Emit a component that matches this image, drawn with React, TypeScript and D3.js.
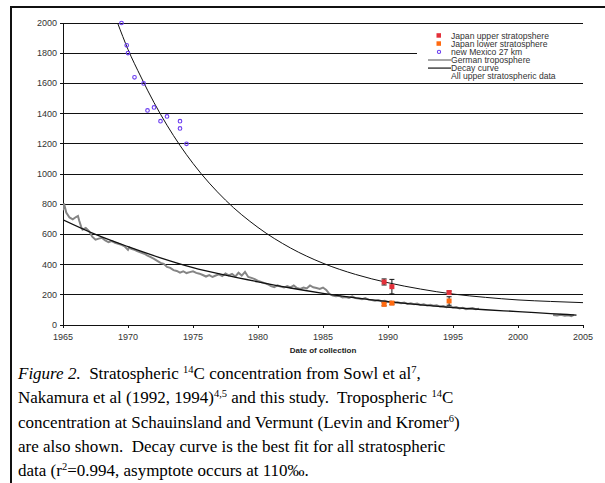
import React from "react";
import * as d3 from "d3";

const W = 605;
const H = 483;

// Tick labels
const xTicks = [1965, 1970, 1975, 1980, 1985, 1990, 1995, 2000, 2005];
const yTicks = [0, 200, 400, 600, 800, 1000, 1200, 1400, 1600, 1800, 2000];

// New Mexico 27 km (year, value)
const newMexico: [number, number][] = [
  [1969.5, 2000], [1969.9, 1852], [1970.0, 1801], [1970.5, 1640],
  [1971.2, 1600], [1971.5, 1421], [1972.0, 1441], [1972.5, 1350],
  [1973.0, 1381], [1974.0, 1350], [1974.0, 1302], [1974.5, 1200],
];

// Japan upper stratosphere (year, value, error)
const japanUpper: [number, number, number][] = [
  [1989.7, 285, 20], [1990.3, 254, 48], [1994.7, 215, 10],
];
// Japan lower stratosphere (year, value, error)
const japanLower: [number, number, number][] = [
  [1989.7, 137, 10], [1990.3, 145, 10], [1994.7, 159, 28],
];

// Decay curve (all upper stratospheric data)
const decayUpper: [number, number][] = [
  [1969.2, 2000], [1970, 1825], [1971, 1642], [1972, 1473], [1973, 1323],
  [1974, 1189], [1975, 1070], [1977.5, 827], [1980, 646], [1982.5, 510],
  [1985, 409], [1987.5, 335], [1990, 280], [1992.5, 238], [1995, 205],
  [1997.5, 183], [2000, 166], [2002.5, 156], [2005, 148],
];

// Decay curve through tropospheric data
const decayLower: [number, number][] = [
  [1965, 697], [1967.5, 600], [1970, 519], [1972.5, 445], [1975, 380],
  [1977.5, 330], [1980, 286], [1982.5, 245], [1985, 210], [1987.5, 180],
  [1990, 155], [1992.5, 133], [1995, 115], [1997.5, 101], [2000, 89],
  [2002.5, 76], [2004.5, 66],
];

// German troposphere (Schauinsland / Vermunt)
const germanA: [number, number][] = [
  [1965.0, 760], [1965.08, 805], [1965.25, 745], [1965.5, 712], [1965.75, 700],
  [1966.0, 715], [1966.15, 722], [1966.25, 690], [1966.4, 650], [1966.5, 632],
  [1966.75, 642], [1967.0, 622], [1967.25, 585], [1967.5, 565], [1967.75, 572],
  [1968.0, 577], [1968.25, 560], [1968.5, 548], [1968.75, 556], [1969.0, 545],
  [1969.25, 538], [1969.5, 531], [1969.75, 520], [1970.0, 498], [1970.1, 514],
  [1970.25, 505], [1970.5, 498], [1970.75, 488], [1971.0, 480], [1971.25, 472],
  [1971.5, 460], [1971.75, 449], [1972.0, 438], [1972.25, 425], [1972.5, 411],
  [1972.75, 405], [1973.0, 385], [1973.25, 378], [1973.5, 363], [1973.75, 358],
  [1974.0, 347], [1974.25, 356], [1974.5, 344], [1974.75, 350], [1975.0, 356],
  [1975.25, 345], [1975.5, 340], [1975.75, 331], [1976.0, 321], [1976.25, 331],
  [1976.5, 318], [1976.75, 328], [1977.0, 335], [1977.25, 324], [1977.5, 341],
  [1977.75, 329], [1978.0, 338], [1978.25, 321], [1978.5, 346], [1978.75, 327],
  [1979.0, 352], [1979.25, 318], [1979.5, 312], [1979.75, 304], [1980.0, 292],
  [1980.25, 285], [1980.5, 277], [1980.75, 270], [1981.0, 257], [1981.25, 251],
  [1981.5, 262], [1981.75, 254], [1982.0, 248], [1982.25, 258], [1982.5, 249],
  [1982.75, 262], [1983.0, 245], [1983.25, 239], [1983.5, 248], [1983.75, 242],
  [1984.0, 262], [1984.25, 250], [1984.5, 245], [1984.75, 239], [1985.0, 248],
  [1985.25, 232], [1985.5, 205], [1985.75, 195], [1986.0, 190], [1986.25, 193],
  [1986.5, 182], [1986.75, 186], [1987.0, 180], [1987.25, 190], [1987.5, 178],
  [1987.75, 175], [1988.0, 171], [1988.25, 178], [1988.5, 168], [1988.75, 165],
  [1989.0, 161], [1989.25, 166], [1989.5, 157], [1989.75, 160], [1990.0, 152],
  [1990.25, 156], [1990.5, 147], [1990.75, 150], [1991.0, 144], [1991.25, 148],
  [1991.5, 140], [1991.75, 144], [1992.0, 137], [1992.25, 142], [1992.5, 133],
  [1992.75, 137], [1993.0, 130], [1993.25, 134], [1993.5, 127], [1993.75, 131],
  [1994.0, 122], [1994.25, 126], [1994.5, 118], [1994.75, 122], [1995.0, 116],
  [1995.25, 119], [1995.5, 110], [1995.75, 114], [1996.0, 105], [1996.25, 109],
  [1996.5, 113], [1996.75, 104], [1997.0, 107],
];
const germanB: [number, number][] = [
  [2002.7, 66], [2003.0, 63], [2003.3, 67], [2003.6, 62], [2003.9, 64],
  [2004.1, 58], [2004.3, 67],
];

const legendItems = [
  { label: "Japan upper stratopshere", kind: "sq", color: "#e3303a" },
  { label: "Japan lower stratosphere", kind: "sq", color: "#ff6a10" },
  { label: "new Mexico 27 km", kind: "circle", color: "#6a3cf0" },
  { label: "German troposphere", kind: "line", color: "#8a8a8a" },
  { label: "Decay curve", kind: "line", color: "#444" },
  { label: "All upper stratospheric data", kind: "none", color: "#000" },
];

const S2 = "\u00a0 ";

export default function App() {
  const x = d3.scaleLinear().domain([1965, 2005]).range([63, 583]);
  const y = d3.scaleLinear().domain([0, 2000]).range([325, 23]);

  const line = d3
    .line<[number, number]>()
    .x((d) => x(d[0]))
    .y((d) => y(d[1]));
  const smooth = d3
    .line<[number, number]>()
    .x((d) => x(d[0]))
    .y((d) => y(d[1]))
    .curve(d3.curveMonotoneX);

  const sansFont = "'Liberation Sans', Arial, sans-serif";
  const serifFont = "'Liberation Serif', 'Times New Roman', serif";
  const capLines = [374, 398, 423, 447, 471].map((v) => v + 5);
  const fs = 17;
  const sup = (s: string) => (
    <tspan fontSize={10.5} dy={-6.5}>{s}</tspan>
  );
  const down = (s: string) => <tspan dy={6.5}>{s}</tspan>;

  return (
    <div style={{ position: "absolute", left: 0, top: 0 }}>
      <svg width={W} height={H} style={{ display: "block", background: "#fff" }}>
        <defs>
          <clipPath id="plot">
            <rect x={63} y={22} width={521} height={304} />
          </clipPath>
        </defs>
        {/* frame */}
        <line x1={11} x2={W} y1={7} y2={7} stroke="#111" strokeWidth={2} />
        <line x1={11} x2={11} y1={6} y2={H} stroke="#111" strokeWidth={2} />

        {/* gridlines */}
        <g shapeRendering="crispEdges">
          {yTicks.filter((t) => t > 0).map((t) => (
            <line key={t} x1={x(1965)} x2={x(2005)} y1={y(t)} y2={y(t)} stroke="#111" strokeWidth={1} />
          ))}
        </g>

        {/* legend background */}
        <rect x={417} y={29} width={170} height={52} fill="#fff" />

        {/* axes */}
        <g shapeRendering="crispEdges">
          <line x1={x(1965)} x2={x(1965)} y1={y(2000)} y2={y(0)} stroke="#111" />
          <line x1={x(1965)} x2={x(2005)} y1={y(0)} y2={y(0)} stroke="#111" />
          {yTicks.map((t) => (
            <line key={t} x1={x(1965) - 3} x2={x(1965)} y1={y(t)} y2={y(t)} stroke="#111" />
          ))}
          {xTicks.map((t) => (
            <line key={t} x1={x(t)} x2={x(t)} y1={y(0)} y2={y(0) + 3} stroke="#111" />
          ))}
        </g>
        {yTicks.map((t) => (
          <text key={t} x={57} y={y(t) + 3} textAnchor="end" fontFamily={sansFont} fontSize={9} fill="#333">
            {t}
          </text>
        ))}
        {xTicks.map((t) => (
          <text key={t} x={x(t)} y={340} textAnchor="middle" fontFamily={sansFont} fontSize={9} fill="#333">
            {t}
          </text>
        ))}
        <text x={323} y={353} textAnchor="middle" fontFamily={sansFont} fontSize={8} fontWeight="bold" fill="#222">
          Date of collection
        </text>

        {/* series */}
        <g clipPath="url(#plot)">
          <path d={line(germanA) || ""} fill="none" stroke="#858585" strokeWidth={2} />
          <path d={line(germanB) || ""} fill="none" stroke="#858585" strokeWidth={2} />
          <path d={smooth(decayLower) || ""} fill="none" stroke="#111" strokeWidth={1.3} />
          <path d={smooth(decayUpper) || ""} fill="none" stroke="#111" strokeWidth={1} />
          {[...japanUpper, ...japanLower].map((d, i) => (
            <g key={"e" + i} stroke="#111" strokeWidth={1}>
              <line x1={x(d[0])} x2={x(d[0])} y1={y(d[1] - d[2])} y2={y(d[1] + d[2])} />
              <line x1={x(d[0]) - 2.5} x2={x(d[0]) + 2.5} y1={y(d[1] - d[2])} y2={y(d[1] - d[2])} />
              <line x1={x(d[0]) - 2.5} x2={x(d[0]) + 2.5} y1={y(d[1] + d[2])} y2={y(d[1] + d[2])} />
            </g>
          ))}
          {japanUpper.map((d, i) => (
            <rect key={"u" + i} x={x(d[0]) - 2.5} y={y(d[1]) - 2.5} width={5} height={5} fill="#e3303a" />
          ))}
          {japanLower.map((d, i) => (
            <rect key={"l" + i} x={x(d[0]) - 2.5} y={y(d[1]) - 2.5} width={5} height={5} fill="#ff6a10" />
          ))}
        </g>
        {newMexico.map((d, i) => (
          <circle key={"n" + i} cx={x(d[0])} cy={y(d[1])} r={1.8} fill="none" stroke="#6a3cf0" strokeWidth={1.1} />
        ))}

        {/* legend */}
        {legendItems.map((it, i) => {
          const cy = 35.7 + i * 8.1;
          return (
            <g key={it.label}>
              {it.kind === "sq" && <rect x={436.5} y={cy - 2.5} width={4.5} height={4.5} fill={it.color} />}
              {it.kind === "circle" && (
                <circle cx={439} cy={cy} r={1.6} fill="none" stroke={it.color} strokeWidth={1.1} />
              )}
              {it.kind === "line" && (
                <line x1={428} x2={451} y1={cy} y2={cy} stroke={it.color} strokeWidth={1.5} />
              )}
              <text x={451} y={cy + 3} fontFamily={sansFont} fontSize={8.6} fill="#333">
                {it.label}
              </text>
            </g>
          );
        })}

        {/* caption */}
        <g fontFamily={serifFont} fontSize={fs} fill="#000">
          <text x={18} y={capLines[0]}>
            <tspan fontStyle="italic">Figure 2.</tspan>
            {S2 + "Stratospheric "}
            {sup("14")}
            {down("C concentration from Sowl et al")}
            {sup("7")}
            {down(",")}
          </text>
          <text x={18} y={capLines[1]}>
            {"Nakamura et al (1992, 1994)"}
            {sup("4,5")}
            {down(" and this study." + S2 + "Tropospheric ")}
            {sup("14")}
            {down("C")}
          </text>
          <text x={18} y={capLines[2]}>
            {"concentration at Schauinsland and Vermunt (Levin and Kromer"}
            {sup("6")}
            {down(")")}
          </text>
          <text x={18} y={capLines[3]}>
            {"are also shown." + S2 + "Decay curve is the best fit for all stratospheric"}
          </text>
          <text x={18} y={capLines[4]}>
            {"data (r"}
            {sup("2")}
            {down("=0.994, asymptote occurs at 110‰.")}
          </text>
        </g>
      </svg>
    </div>
  );
}
